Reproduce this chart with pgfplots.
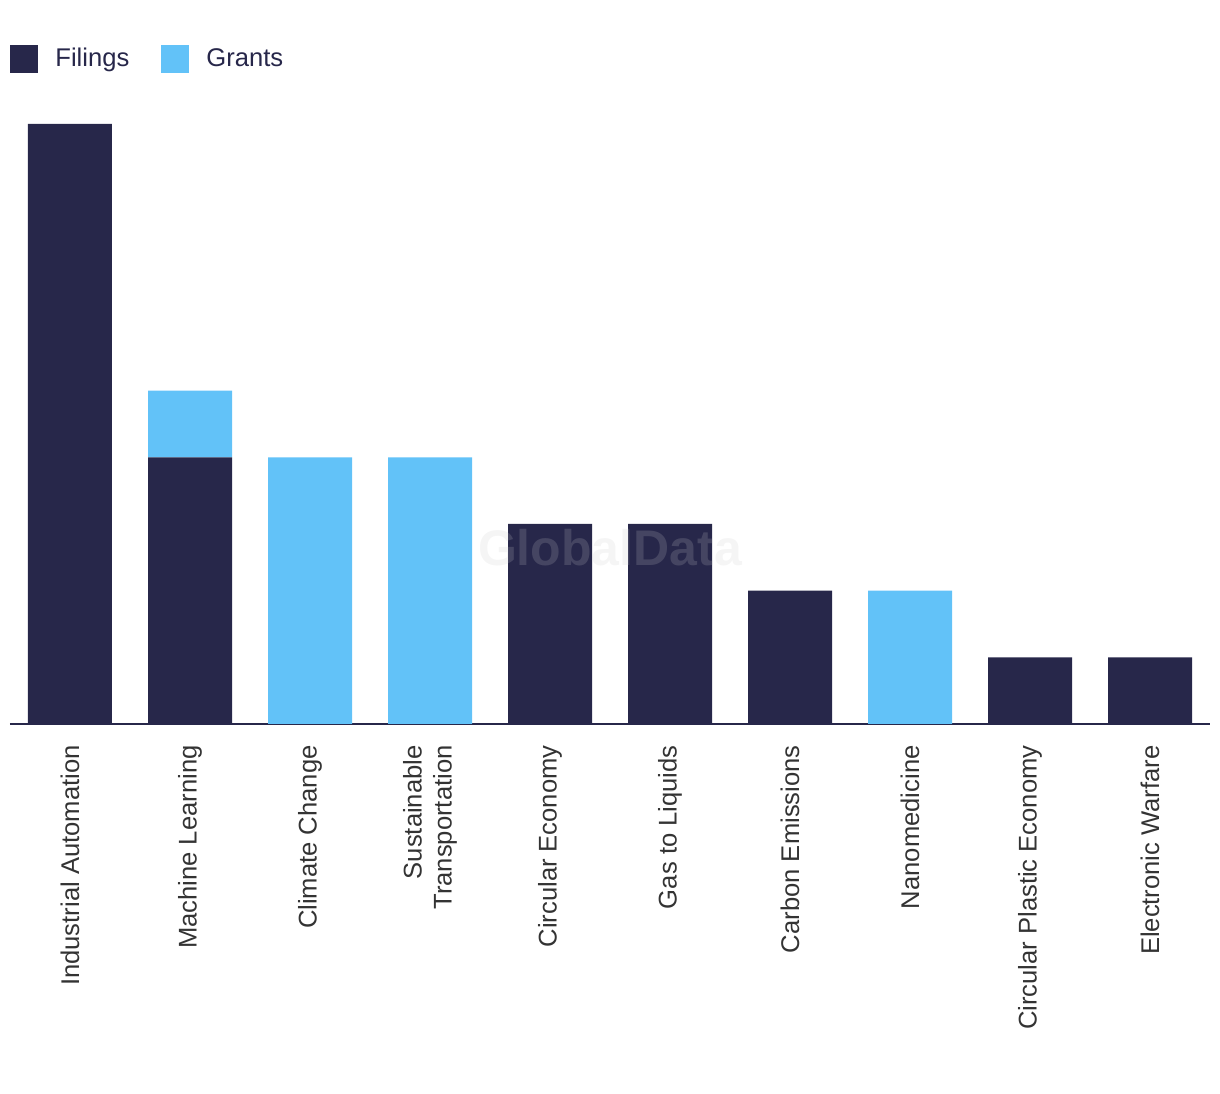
\documentclass[border=0pt]{standalone}
\usepackage{pgfplots}
\pgfplotsset{compat=1.18}
\usepackage{fontspec}
\setmainfont{Liberation Sans}
\definecolor{navy}{HTML}{27274A}
\definecolor{sky}{HTML}{62C2F8}
\definecolor{lab}{HTML}{333333}
\definecolor{wm}{HTML}{CACACA}
\begin{document}
\begin{tikzpicture}
\begin{axis}[
  name=ax,
  scale only axis,
  width=600pt, height=300pt,
  ybar stacked,
  bar width=42pt,
  xmin=-0.5, xmax=9.5,
  ymin=0, ymax=9,
  axis x line*=bottom,
  axis y line=none,
  x axis line style={navy, line width=1pt, -},
  xtick=data,
  xtick style={draw=none},
  xticklabels={Industrial Automation, Machine Learning, Climate Change, {Sustainable\\Transportation}, Circular Economy, Gas to Liquids, Carbon Emissions, Nanomedicine, Circular Plastic Economy, Electronic Warfare},
  xticklabel style={rotate=90, anchor=east, align=right, font=\fontsize{12.8}{15}\selectfont, text=lab, inner sep=0pt},
  xticklabel shift=10.5pt,
  legend columns=2,
  legend style={at={(0,1.1083)}, anchor=west, draw=none, fill=none, inner sep=0pt,
    font=\fontsize{12.8}{15}\selectfont, text=navy,
    nodes={inner sep=0pt},
    /tikz/every odd column/.append style={column sep=8.5pt},
    /tikz/every even column/.append style={column sep=16pt}},
  legend image code/.code={\fill[#1] (0pt,-7pt) rectangle (14pt,7pt);},
  clip=false,
]
\addplot+[fill=navy, draw=none] coordinates {(0,9) (1,4) (2,0) (3,0) (4,3) (5,3) (6,2) (7,0) (8,1) (9,1)};
\addplot+[fill=sky, draw=none] coordinates {(0,0) (1,1) (2,4) (3,4) (4,0) (5,0) (6,0) (7,2) (8,0) (9,0)};
\legend{Filings, Grants}
\coordinate (wmpos) at (axis cs:4.5,2.65);
\end{axis}
\node[font=\bfseries\fontsize{25}{28}\selectfont, text=wm, text opacity=0.19] at (wmpos) {GlobalData};
\pgfresetboundingbox
\useasboundingbox ([xshift=-5pt,yshift=-185pt]ax.south west) rectangle ([xshift=5pt,yshift=62pt]ax.north east);
\end{tikzpicture}
\end{document}
